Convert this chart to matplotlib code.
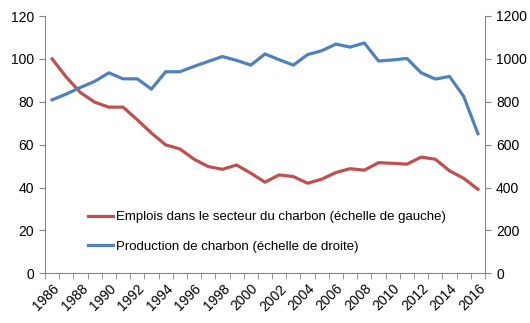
import numpy as np
import matplotlib.pyplot as plt

plt.rcParams['font.family'] = ['Liberation Sans', 'DejaVu Sans']

years = list(range(1986, 2017))
emplois = [100, 91.5, 84.3, 79.8, 77.5, 77.5, 71.6, 65.4, 59.9, 58.0,
           53.2, 49.8, 48.5, 50.5, 46.7, 42.5, 45.9, 45.1, 42.0, 43.9,
           47.0, 48.8, 48.1, 51.6, 51.3, 50.9, 54.2, 53.2, 47.8, 44.3, 39.2]
production = [809, 836, 867, 895, 935, 907, 907, 859, 940, 940,
              965, 988, 1011, 993, 971, 1023, 996, 971, 1020, 1038,
              1069, 1055, 1074, 990, 995, 1002, 935, 906, 918, 825, 651]
label_emplois = "Emplois dans le secteur du charbon (échelle de gauche)"
label_production = "Production de charbon (échelle de droite)"

red = "#C0504D"
blue = "#4F81BD"
grey = "#868686"

fig = plt.figure(figsize=(5.3, 3.23), dpi=100)
ax = fig.add_axes([45 / 530, 1 - 273.3 / 323, 440 / 530, (273.3 - 16) / 323])
twin = ax.twinx()

x = np.arange(len(years))
p1, = ax.plot(x, emplois, color=red, lw=2.3, label=label_emplois)
p2, = twin.plot(x, production, color=blue, lw=2.3, label=label_production)

ax.set_xlim(-0.5, len(years) - 0.5)
ax.set_ylim(0, 120)
twin.set_ylim(0, 1200)
ax.set_yticks(range(0, 121, 20))
twin.set_yticks(range(0, 1201, 200))

# category axis: ticks between categories, labels every 2 years
ax.set_xticks(np.arange(-0.5, len(years)), minor=True)
ax.set_xticks(x[::2])
ax.set_xticklabels([str(y) for y in years[::2]], rotation=45, ha='right',
                   rotation_mode='anchor')
ax.tick_params(axis='x', which='major', length=0, pad=6, labelsize=10)
ax.tick_params(axis='x', which='minor', length=4, color=grey, direction='out')

ax.tick_params(axis='y', length=4, color=grey, labelsize=10, pad=4)
twin.tick_params(axis='y', length=4, color=grey, labelsize=10, pad=4)

for a in (ax, twin):
    a.spines['top'].set_visible(False)
    for s in ('left', 'right', 'bottom'):
        a.spines[s].set_color(grey)
ax.spines['right'].set_visible(False)
twin.spines['left'].set_visible(False)
twin.spines['bottom'].set_visible(False)

twin.legend(handles=[p1, p2], loc='upper left', frameon=False,
            bbox_to_anchor=(88 / 530, 1 - 211 / 323), bbox_transform=fig.transFigure,
            fontsize=9.5, handlelength=1.9, handletextpad=0.2, labelspacing=1.3,
            borderpad=0, borderaxespad=0)

fig.savefig("out.png", dpi=100)
